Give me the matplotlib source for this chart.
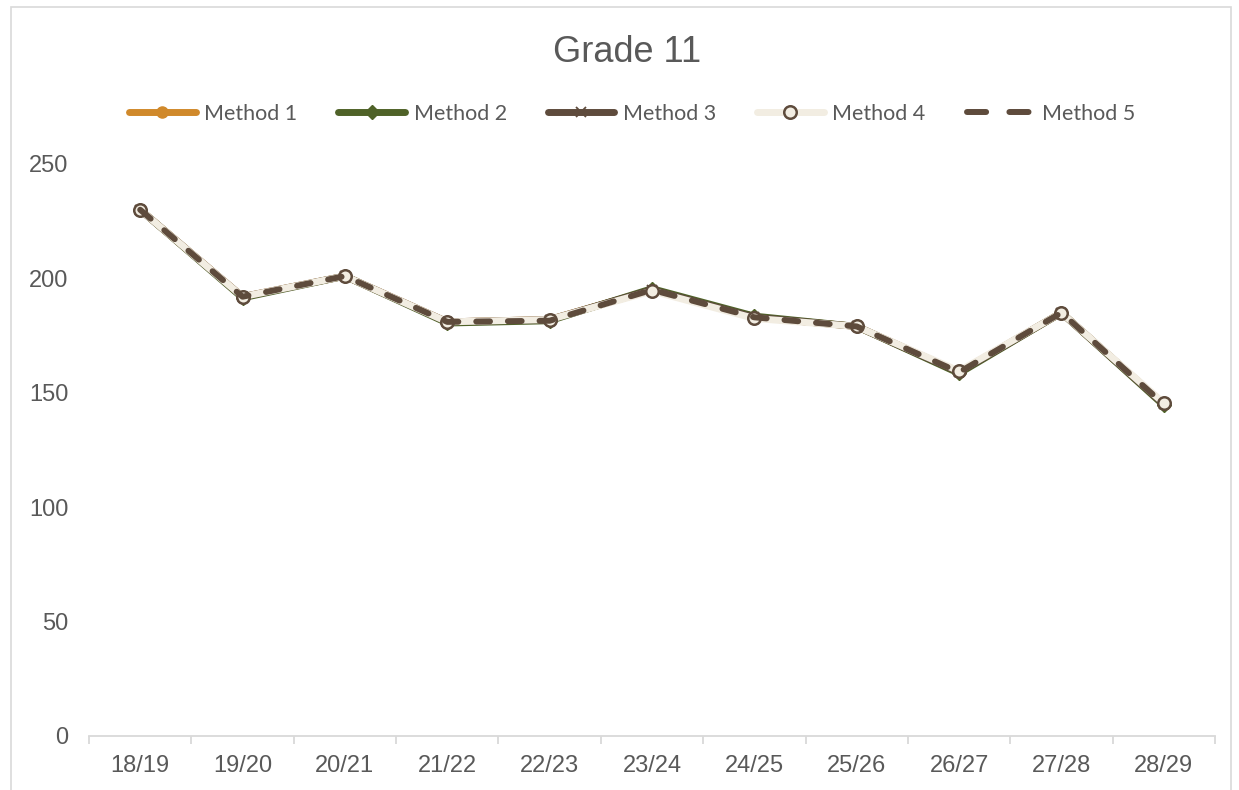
import matplotlib
matplotlib.use("Agg")
import matplotlib.pyplot as plt
from matplotlib.patches import Rectangle

categories = ["18/19", "19/20", "20/21", "21/22", "22/23", "23/24",
              "24/25", "25/26", "26/27", "27/28", "28/29"]
method1 = [230, 192, 201, 181, 182, 195, 183, 179, 159, 185, 145]
method2 = [230, 191.5, 201, 180.5, 181.5, 195.5, 183.5, 179, 158.5, 185, 144.5]
method3 = [230, 192, 201, 181, 182, 195, 183, 179, 159, 185, 145]
method4 = [230, 192, 201, 181, 182, 194.5, 182.5, 179, 159.5, 185, 145.5]
method5 = [230, 192, 201, 181, 181.5, 195, 183, 179, 159, 185, 145]
series_names = ["Method 1", "Method 2", "Method 3", "Method 4", "Method 5"]
y_ticks = [0, 50, 100, 150, 200, 250]

W, H = 1239, 790
fig = plt.figure(figsize=(W / 100, H / 100), dpi=100)
fig.patch.set_facecolor("white")

# outer chart frame
fig.patches.append(Rectangle((11 / W, -0.01), (1231 - 11) / W, (H - 7) / H + 0.01,
                             transform=fig.transFigure, fill=False,
                             edgecolor="#d9d9d9", linewidth=1.2))

ax = fig.add_axes([89 / W, (H - 736) / H, (1215 - 89) / W, (736 - 164) / H])
x = list(range(len(categories)))

orange = "#D0892B"
green = "#4F6228"
brown = "#5E4B3C"
cream = "#F2EDE2"

ax.plot(x, method1, color=orange, lw=5, marker="o", ms=8,
        mfc=orange, mec=orange, solid_capstyle="round", label=series_names[0])
ax.plot(x, method2, color=green, lw=5, marker="D", ms=7.5,
        mfc=green, mec=green, solid_capstyle="round", label=series_names[1])
ax.plot(x, method3, color=brown, lw=5, marker="x", ms=7, mew=1.3,
        mec=brown, solid_capstyle="round", label=series_names[2])
ax.plot(x, method4, color=cream, lw=5, marker="o", ms=9, mew=1.8,
        mfc=cream, mec=brown, solid_capstyle="round", label=series_names[3])
l5, = ax.plot(x, method5, color=brown, lw=4.3, label=series_names[4],
              dash_capstyle="round")
l5.set_dashes((2.3, 3.0))

ax.set_xlim(-0.5, len(categories) - 0.5)
ax.set_ylim(0, 250)
ax.set_yticks(y_ticks)
ax.set_xticks(x)
ax.set_xticklabels(categories)
ax.set_xticks([i - 0.5 for i in range(len(categories) + 1)], minor=True)

for s in ["left", "right", "top"]:
    ax.spines[s].set_visible(False)
ax.spines["bottom"].set_color("#d9d9d9")
ax.spines["bottom"].set_linewidth(1.3)

ax.tick_params(axis="y", length=0, pad=15, labelsize=17, labelcolor="#595959")
ax.tick_params(axis="x", which="major", length=0, pad=14, labelsize=17,
               labelcolor="#595959")
ax.tick_params(axis="x", which="minor", length=6, width=1.3, color="#d9d9d9")
for lab in ax.get_xticklabels() + ax.get_yticklabels():
    lab.set_fontfamily("Liberation Sans")

fig.text(627 / W, 1 - 53 / H, "Grade 11", ha="center", va="center",
         fontsize=26, color="#595959", family="Liberation Sans")

leg = fig.legend(loc="center", bbox_to_anchor=(632 / W, 1 - 114 / H), ncol=5,
                 frameon=False, handlelength=3.1, handletextpad=0.4,
                 columnspacing=1.9, prop={"family": "Lato", "size": 15.5})
for t in leg.get_texts():
    t.set_color("#595959")
leg.legend_handles[4].set_dashes((3.2, 3.9))

fig.savefig("out.png", dpi=100)
